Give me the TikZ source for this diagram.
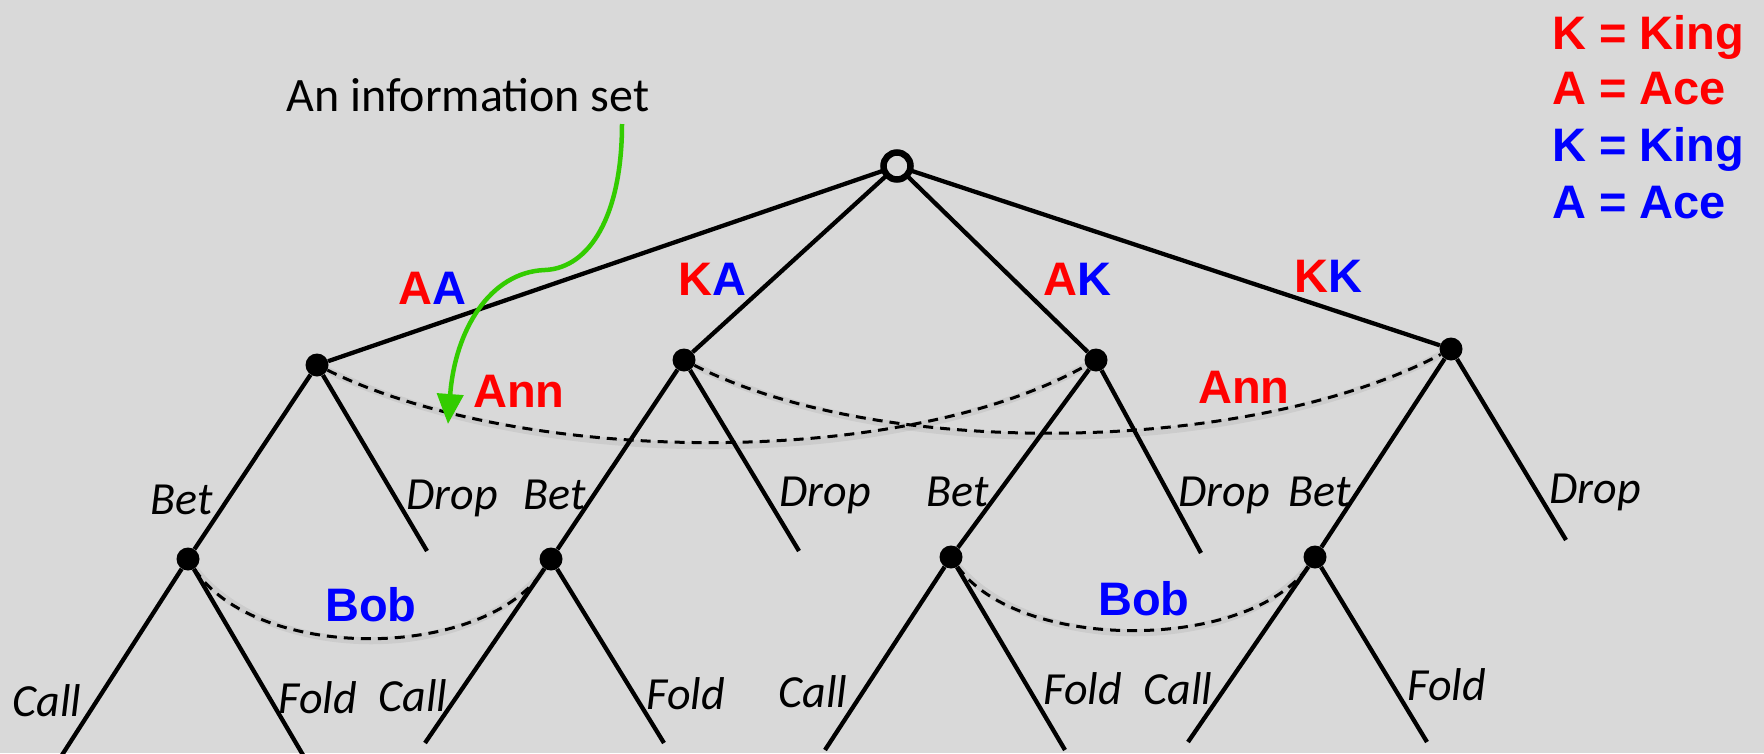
\documentclass[tikz,border=0pt]{standalone}
\usepackage{fontspec}
\setmainfont{Carlito}
\newfontfamily\labfont{Liberation Sans}
\usetikzlibrary{arrows.meta}
\definecolor{bg}{RGB}{217,217,217}
\definecolor{arrowgreen}{RGB}{51,204,0}
\begin{document}
\begin{tikzpicture}[x=1pt,y=-1pt,
  edge/.style={line width=4.3pt},
  infoset/.style={line width=3pt, dash pattern=on 10pt off 7pt},
  haze/.style={line width=7pt, draw=black, opacity=0.06, shift={(2pt,-6pt)}},
  dot/.style={circle, fill=black, inner sep=0pt, minimum size=23pt},
  chance/.style={circle, draw=black, line width=6.5pt, fill=bg, inner sep=0pt, minimum size=27pt},
  act/.style={font=\fontsize{46}{55}\selectfont\itshape, anchor=base, inner sep=0pt},
  tag/.style={font=\labfont\bfseries\fontsize{47}{56}\selectfont, anchor=base, inner sep=0pt},
  key/.style={font=\labfont\bfseries\fontsize{47}{56}\selectfont, anchor=base west, inner sep=0pt},
  note/.style={font=\fontsize{48}{58}\selectfont, anchor=base, inner sep=0pt},
]
\useasboundingbox (0,0) rectangle (1764,753);
\fill[bg] (0,0) rectangle (1764,753);
\clip (0,0) rectangle (1764,753);

% leaf ends
\coordinate (d1) at (427,551);
\coordinate (d2) at (799,551);
\coordinate (d3) at (1201,553);
\coordinate (d4) at (1566,540);
\coordinate (c1) at (62,755);   \coordinate (f1) at (303,755);
\coordinate (c2) at (425,743);  \coordinate (f2) at (664,743);
\coordinate (c3) at (825,750);  \coordinate (f3) at (1065,750);
\coordinate (c4) at (1188,742); \coordinate (f4) at (1427,742);

% chance move and Ann's decision nodes
\coordinate (r0) at (897,166);
\coordinate (p1) at (317,365);
\coordinate (p2) at (684,360);
\coordinate (p3) at (1096,360);
\coordinate (p4) at (1451,349);
% Bob's decision nodes
\coordinate (q1) at (188,559);
\coordinate (q2) at (551,559);
\coordinate (q3) at (951,557);
\coordinate (q4) at (1315,557);

% information-set shading
\draw[haze] (p1) .. controls (520,465) and (900,470) .. (p3);
\draw[haze] (p2) .. controls (880,460) and (1250,455) .. (p4);
\draw[haze] (q1) .. controls (255,662) and (484,662) .. (q2);
\draw[haze] (q3) .. controls (1018,652) and (1248,652) .. (q4);

\node[dot] (n1) at (p1) {};
\node[dot] (n2) at (p2) {};
\node[dot] (n3) at (p3) {};
\node[dot] (n4) at (p4) {};
\node[dot] (b1) at (q1) {};
\node[dot] (b2) at (q2) {};
\node[dot] (b3) at (q3) {};
\node[dot] (b4) at (q4) {};

% card deals
\draw[edge] (r0) -- (n1);
\draw[edge] (r0) -- (n2);
\draw[edge] (r0) -- (n3);
\draw[edge] (r0) -- (n4);
\node[chance] (root) at (r0) {};

% Ann: bet or drop; Bob: call or fold
\foreach \i in {1,2,3,4} {
  \draw[edge] (n\i) -- (b\i);
  \draw[edge] (n\i) -- (d\i);
  \draw[edge] (b\i) -- (c\i);
  \draw[edge] (b\i) -- (f\i);
}

% information sets
\draw[infoset] (n1) .. controls (520,465) and (900,470) .. (n3);
\draw[infoset] (n2) .. controls (880,460) and (1250,455) .. (n4);
\draw[infoset] (b1) .. controls (255,662) and (484,662) .. (b2);
\draw[infoset] (b3) .. controls (1018,652) and (1248,652) .. (b4);

% deal labels
\node[tag] (lAA) at (432,304) {\textcolor{red}{A}\textcolor{blue}{A}};
\node[tag] (lKA) at (712,295) {\textcolor{red}{K}\textcolor{blue}{A}};
\node[tag] (lAK) at (1077,295) {\textcolor{red}{A}\textcolor{blue}{K}};
\node[tag] (lKK) at (1328,292) {\textcolor{red}{K}\textcolor{blue}{K}};

% player labels
\node[tag, text=red] (ann1) at (519,407) {Ann};
\node[tag, text=red] (ann2) at (1244,403) {Ann};
\node[tag, text=blue] (bob1) at (371,621) {Bob};
\node[tag, text=blue] (bob2) at (1144,615) {Bob};

% action labels
\node[act] (bet1) at (182,514) {Bet};
\node[act] (drop1) at (452,509) {Drop};
\node[act] (bet2) at (555,509) {Bet};
\node[act] (drop2) at (825,506) {Drop};
\node[act] (bet3) at (958,506) {Bet};
\node[act] (drop3) at (1224,506) {Drop};
\node[act] (bet4) at (1320,506) {Bet};
\node[act] (drop4) at (1595,503) {Drop};
\node[act] (call1) at (47,716) {Call};
\node[act] (fold1) at (318,713) {Fold};
\node[act] (call2) at (413,711) {Call};
\node[act] (fold2) at (686,709) {Fold};
\node[act] (call3) at (813,707) {Call};
\node[act] (fold3) at (1083,704) {Fold};
\node[act] (call4) at (1178,704) {Call};
\node[act] (fold4) at (1447,700) {Fold};

% legend
\node[key, text=red] (k1) at (1552,49) {K = King};
\node[key, text=red] (k2) at (1552,104) {A = Ace};
\node[key, text=blue] (k3) at (1552,161) {K = King};
\node[key, text=blue] (k4) at (1552,218) {A = Ace};

% callout
\node[note] (info) at (468,111) {An information set};
\coordinate (gstart) at (622,124);
\coordinate (gtip) at (448,424);
\draw[arrowgreen, line width=4.5pt, -{Triangle[length=30pt,width=26pt]}]
  (gstart) .. controls (622,215) and (590,268) .. (545,270)
  .. controls (490,272) and (455,330) .. (gtip);
\end{tikzpicture}
\end{document}
